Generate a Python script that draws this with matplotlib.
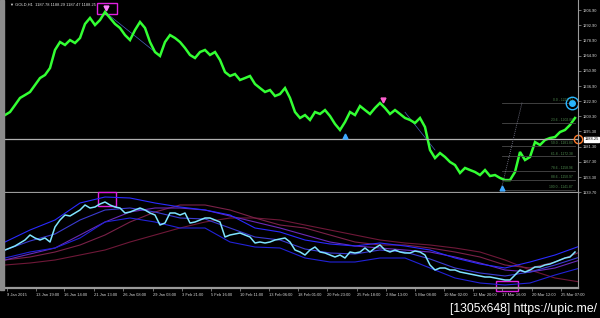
"""
GOLD H1 chart (MT4 style) with indicator sub-window.
"""
import numpy as np
import matplotlib
matplotlib.use("Agg")
import matplotlib.pyplot as plt
from matplotlib.patches import Rectangle

# --- main window: close price, one value every 5 bars ---
price = [
    1210.4, 1213.2, 1219.6, 1226.1, 1228.8, 1231.6, 1238.0, 1244.4, 1247.2, 1253.6,
    1270.2, 1277.5, 1274.8, 1279.3, 1276.6, 1281.2, 1294.1, 1299.6, 1293.1, 1297.7,
    1305.1, 1299.6, 1294.1, 1290.4, 1283.9, 1279.3, 1288.5, 1295.9, 1290.4, 1277.5,
    1268.3, 1264.7, 1277.5, 1283.9, 1281.2, 1277.5, 1272.0, 1265.6, 1262.8, 1268.3,
    1270.2, 1265.6, 1268.3, 1261.0, 1249.9, 1246.3, 1248.1, 1242.6, 1244.4, 1246.3,
    1238.9, 1235.2, 1231.6, 1233.4, 1227.9, 1229.7, 1235.2, 1226.1, 1213.2, 1207.7,
    1210.4, 1205.9, 1213.2, 1211.4, 1215.0, 1209.5, 1202.2, 1196.7, 1204.0, 1213.2,
    1210.4, 1218.7, 1215.0, 1211.4, 1216.9, 1221.5, 1216.9, 1211.4, 1215.0, 1211.4,
    1207.7, 1205.9, 1203.1, 1207.7, 1199.4, 1178.3, 1170.9, 1175.5, 1171.9, 1167.3,
    1164.5, 1157.2, 1161.8, 1159.9, 1158.1, 1155.3, 1159.9, 1154.4, 1155.3, 1152.6,
    1150.7, 1150.7, 1158.1, 1176.5, 1169.1, 1171.9, 1185.6, 1182.9, 1187.5, 1189.3,
    1190.2, 1194.8, 1196.7, 1201.3, 1207.7,
]
price_step = 5

# thin zigzag legs (bar, price) pairs
zigzag_legs = [
    ([100, 155], [1305.1, 1264.7]),
    ([400, 430], [1213.0, 1178.3]),
]

fib_levels = ["0.0", "23.6", "50.0", "61.8", "78.6", "88.6", "100.0"]
fib_prices = [1221.73, 1202.88, 1181.80, 1172.38, 1158.96, 1150.97, 1141.87]
fib_start, fib_end = 497, 570

price_ticks = [1306.90, 1292.90, 1278.90, 1264.90, 1250.90, 1236.90, 1222.90,
               1209.30, 1195.30, 1181.30, 1167.30, 1153.30, 1139.70]
last_price = 1188.25
header = "\u25bc GOLD,H1  1187.78 1188.29 1187.47 1188.25"

# --- indicator window ---
osc = [
    40, 42, 44, 47, 50, 55, 52, 50, 52, 48, 63, 70, 75, 74, 77, 80, 85, 82, 83, 86,
    88, 85, 83, 82, 77, 78, 80, 82, 80, 77, 75, 65, 67, 77, 77, 75, 77, 67, 68, 70,
    72, 72, 70, 68, 53, 55, 56, 57, 55, 53, 47, 48, 47, 48, 50, 51, 52, 48, 40, 38,
    35, 40, 43, 38, 37, 35, 33, 35, 32, 38, 37, 38, 42, 38, 42, 45, 40, 38, 40, 38,
    37, 37, 39, 38, 35, 25, 20, 22, 22, 20, 20, 18, 17, 16, 15, 14, 13, 13, 12, 11,
    10, 10, 15, 20, 18, 20, 23, 23, 25, 26, 28, 30, 32, 33, 38,
]
band_step = 25
band_upper = [48, 60, 70, 87, 93, 92, 87, 83, 80, 75, 62, 58, 50, 46, 44, 47, 44, 40, 32, 26, 22, 28, 35, 44]
band_mid = [40, 49, 56, 70, 80, 82, 78, 72, 71, 62, 53, 50, 41, 37, 36, 40, 38, 31, 22, 17, 14, 18, 25, 33]
band_lower = [32, 38, 42, 52, 68, 72, 68, 62, 62, 48, 43, 42, 32, 28, 28, 32, 32, 22, 12, 7, 5, 7, 15, 22]
purple_ma = [30, 36, 42, 55, 68, 78, 82, 82, 80, 74, 68, 62, 55, 48, 44, 42, 40, 38, 33, 27, 20, 18, 22, 30]
slow_ma1 = [30, 33, 38, 45, 55, 68, 78, 85, 85, 80, 72, 65, 62, 55, 48, 45, 45, 42, 38, 33, 25, 22, 28, 38]
slow_ma2 = [25, 27, 30, 35, 40, 48, 55, 62, 68, 72, 72, 70, 65, 60, 55, 50, 47, 45, 42, 38, 30, 20, 12, 8]

time_labels = ["9 Jan 2015", "13 Jan 19:00", "16 Jan 14:00", "21 Jan 13:00", "26 Jan 08:00",
               "29 Jan 03:00", "3 Feb 21:00", "5 Feb 16:00", "10 Feb 11:00", "13 Feb 06:00",
               "18 Feb 01:00", "20 Feb 23:00", "25 Feb 18:00", "2 Mar 13:00", "5 Mar 08:00",
               "10 Mar 02:00", "12 Mar 20:00", "17 Mar 16:00", "20 Mar 12:00", "25 Mar 07:00"]
time_bars = [2, 31, 59, 89, 118, 148, 177, 206, 235, 264,
             293, 322, 352, 381, 410, 439, 468, 497, 527, 556]

BG = "black"
GRID = "#9a9a9a"
FS = 2.9
plt.rcParams["font.family"] = ["Liberation Sans", "DejaVu Sans"]

fig = plt.figure(figsize=(6, 3.18), dpi=100, facecolor=BG)
ax1 = fig.add_axes([5 / 600, 125 / 318, 573 / 600, 193 / 318], facecolor=BG)
ax2 = fig.add_axes([5 / 600, 30 / 318, 573 / 600, 95 / 318], facecolor=BG)

for ax in (ax1, ax2):
    ax.set_xlim(0, 573)
    for side in ("top", "left"):
        ax.spines[side].set_visible(False)
    ax.spines["right"].set_color(GRID)
    ax.spines["right"].set_linewidth(0.8)
    ax.spines["bottom"].set_color(GRID)
    ax.spines["bottom"].set_linewidth(1.6)

# --- main window ---
ax1.set_ylim(1138.8, 1316.1)
px = np.arange(len(price)) * price_step
for xs, ys in zigzag_legs:
    ax1.plot(xs, ys, color="#4a5fbf", lw=0.5)
ax1.plot(px, price, color="#33ff33", lw=1.8, solid_joinstyle="miter")
ax1.axhline(last_price, color="#b0b0b0", lw=0.9)

for lvl, p in zip(fib_levels, fib_prices):
    ax1.plot([fib_start, fib_end], [p, p], color="#4a4a4a", lw=0.6)
    ax1.text(fib_end - 2, p + 0.8, f"{lvl} - {p:.2f}", color="#4f8a4f",
             fontsize=2.4, ha="right", va="bottom")
ax1.plot([fib_start, fib_start + 20], [fib_prices[-1] + 3, fib_prices[0]],
         color="#8a8aa0", lw=0.6, ls=(0, (1, 1.5)))

ax1.add_patch(Rectangle((92, 1303.2), 20, 10.0, fill=False, ec="#e020e0", lw=1.0))
ax1.plot([101], [1308.5], marker="v", color="#ff80ff", ms=3.5)
ax1.plot([378], [1224.5], marker="v", color="#ff60d0", ms=3.5)
ax1.plot([340, 497], [1191.0, 1143.5], ls="none", marker="^", color="#3fa9ff", ms=3.5)
ax1.plot([567], [1221.5], marker="o", ms=9, mfc="none", mec="#29b6ff", mew=1.0)
ax1.plot([567], [1221.5], marker="o", ms=4, color="#29b6ff")
ax1.plot([573], [1188.0], marker="o", ms=6, mfc="none", mec="#ff7a2a", mew=1.0, clip_on=False)

ax1.set_xticks([])
ax1.yaxis.tick_right()
ax1.set_yticks(price_ticks)
ax1.set_yticklabels([f"{t:.2f}" for t in price_ticks])
ax1.tick_params(axis="y", colors=GRID, labelcolor="#d8d8d8", labelsize=FS,
                length=2, width=0.5, pad=1.5)
ax1.text(579.5, last_price, f"{last_price:.2f}", transform=ax1.transData,
         fontsize=FS, color="black", va="center", ha="left", clip_on=False,
         bbox=dict(boxstyle="square,pad=0.15", fc="white", ec="white"))
ax1.text(0.008, 0.985, header, transform=ax1.transAxes, fontsize=FS,
         color="#e0e0e0", va="top", ha="left")

# --- indicator window ---
ax2.set_ylim(2, 97)
bx = np.arange(len(band_upper)) * band_step
ax2.plot(bx, slow_ma2, color="#6e1838", lw=0.8)
ax2.plot(bx, slow_ma1, color="#7a2148", lw=0.8)
ax2.plot(bx, purple_ma, color="#6a2ab8", lw=0.8)
ax2.plot(bx, band_upper, color="#2a2aff", lw=0.8)
ax2.plot(bx, band_mid, color="#3b3bd0", lw=0.8)
ax2.plot(bx, band_lower, color="#2222d8", lw=0.8)
ox = np.arange(len(osc)) * price_step
ax2.plot(ox, osc, color="#7fe4ff", lw=1.1)

ax2.add_patch(Rectangle((93, 84), 18, 14, fill=False, ec="#e020e0", lw=1.0, clip_on=False))
ax2.add_patch(Rectangle((491, -1), 22, 10, fill=False, ec="#e020e0", lw=1.0, clip_on=False))

ax2.set_yticks([])
ax2.set_xticks(time_bars)
ax2.set_xticklabels(time_labels, ha="left")
ax2.tick_params(axis="x", colors=GRID, labelcolor="#d8d8d8", labelsize=FS,
                length=2, width=0.5, pad=1.5, direction="out")

# left gray strip and watermark
fig.patches.append(Rectangle((0, 28 / 318), 4 / 600, 290 / 318, transform=fig.transFigure,
                             color="#8c8c8c", zorder=0))
fig.text(0.995, 0.008, "[1305x648] https://upic.me/", color="white",
         fontsize=8.8, ha="right", va="bottom")

fig.savefig("out.png", dpi=100, facecolor=BG)
